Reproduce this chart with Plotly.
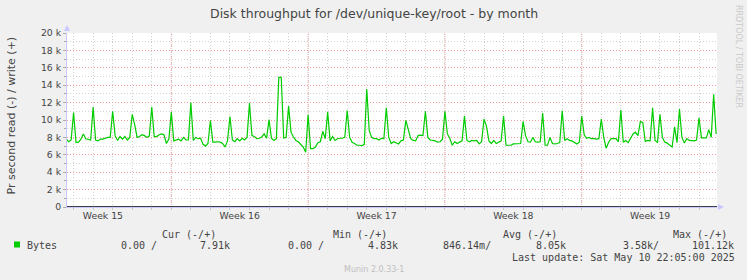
import pandas as pd
import plotly.graph_objects as go

# ---- data (bytes per second written, 3-hour samples) ----
start_time = "2025-04-07 15:00"
end_time = "2025-05-10 21:00"
write_bytes = [
    7800, 7500, 7700,                                   # Apr 7 (15h..21h)
    10850, 7400, 7450, 7800, 8400, 7850, 7800, 7700,    # Apr 8
    11500, 7700, 7600, 7800, 7800, 7900, 8000, 8000,    # Apr 9
    11000, 8200, 7650, 8100, 7800, 8100, 7700, 8000,    # Apr 10
    10650, 9500, 8000, 8100, 8300, 8200, 8000, 8150,    # Apr 11
    11500, 8100, 8100, 8300, 8400, 8300, 7300, 7800,    # Apr 12
    10900, 7600, 7700, 7800, 7600, 8000, 7700, 7700,    # Apr 13
    12000, 7650, 8000, 7850, 7900, 7200, 7000, 7300,    # Apr 14
    9950, 7450, 7450, 7500, 7450, 7300, 6900, 7600,     # Apr 15
    10400, 7700, 7500, 7850, 7600, 7900, 7700, 8000,    # Apr 16
    11950, 8200, 8100, 7850, 7900, 8050, 8400, 7900,    # Apr 17
    10050, 7900, 7650, 7850, 14900, 14900, 7900, 8000,  # Apr 18
    11600, 8600, 8050, 7650, 7500, 7250, 6900, 6300,    # Apr 19
    10600, 6700, 6700, 6900, 7400, 7500, 8700, 7850,    # Apr 20
    10900, 7600, 8100, 7650, 7850, 7900, 7900, 8000,    # Apr 21
    11100, 8000, 7450, 7300, 7100, 7100, 7050, 7200,    # Apr 22
    13550, 8800, 8000, 7850, 7850, 7700, 7900, 7850,    # Apr 23
    11400, 8000, 7300, 7500, 7400, 7250, 7600, 7700,    # Apr 24
    9950, 8800, 7850, 7650, 7600, 8200, 8250, 8200,     # Apr 25
    11000, 8000, 7700, 7650, 7600, 7450, 7500, 7800,    # Apr 26
    11000, 8400, 7900, 7100, 7500, 7300, 7500, 7600,    # Apr 27
    10450, 7650, 7500, 7650, 7600, 7650, 7250, 7500,    # Apr 28
    10100, 9300, 7600, 7300, 7650, 7300, 7450, 7600,    # Apr 29
    10450, 7100, 7100, 7100, 7250, 7250, 7250, 7300,    # Apr 30
    9850, 8200, 7500, 7450, 8000, 7500, 7450, 7500,     # May 1
    10800, 7100, 7100, 8000, 7300, 7250, 7300, 7400,    # May 2
    11100, 7650, 7850, 7650, 7600, 7400, 7250, 7450,    # May 3
    10450, 8300, 7900, 8000, 7850, 7850, 7800, 7850,    # May 4
    10100, 8000, 6750, 7450, 7850, 7850, 7850, 7500,    # May 5
    11150, 7450, 7650, 7400, 8000, 8400, 8600, 8200,    # May 6
    9850, 9700, 7550, 7650, 7600, 11400, 7650, 7400,    # May 7
    10650, 8000, 7450, 7350, 7100, 6900, 9200, 7400,    # May 8
    11250, 8000, 7350, 7850, 7650, 7650, 7600, 7700,    # May 9
    10250, 7950, 7950, 7950, 8900, 8000, 12950, 8400,   # May 10
]
times = pd.date_range(start_time, end_time, freq="3h")

week_centers = ["2025-04-09 12:00", "2025-04-16 12:00", "2025-04-23 12:00",
                "2025-04-30 12:00", "2025-05-07 12:00"]
week_labels = ["Week 15", "Week 16", "Week 17", "Week 18", "Week 19"]
week_starts = ["2025-04-13", "2025-04-20", "2025-04-27", "2025-05-04"]
y_ticks = [0, 2000, 4000, 6000, 8000, 10000, 12000, 14000, 16000, 18000, 20000]
y_tick_labels = ["0", "2 k", "4 k", "6 k", "8 k", "10 k", "12 k", "14 k",
                 "16 k", "18 k", "20 k"]

series_name = "Bytes"
col_headers = ["Cur (-/+)", "Min (-/+)", "Avg (-/+)", "Max (-/+)"]
col_values = ["0.00 /", "7.91k", "0.00 /", "4.83k", "846.14m/", "8.05k", "3.58k/", "101.12k"]
last_update = "Last update: Sat May 10 22:05:00 2025"

x_range = ["2025-04-07 15:55", "2025-05-10 22:05"]

# ---- layout geometry (pixels) ----
W, H = 747, 280
L, R, T, B = 67, 717, 33, 207


def px(X):
    return (X - L) / (R - L)


def py(Y):
    return (B - Y) / (B - T)


GREEN = "#00cc00"
TXT = "#444444"
MONO = "DejaVu Sans Mono"
SANS = "DejaVu Sans"
RED_GRID = "#ee9c9c"

fig = go.Figure()
fig.add_trace(go.Scatter(x=times, y=write_bytes, mode="lines",
                         line=dict(color=GREEN, width=1.2), name=series_name,
                         showlegend=False))

shapes = []
for ws in week_starts:
    # white underlay hides the day grid line, then the red major line on top
    shapes.append(dict(type="line", xref="x", yref="paper", x0=ws, x1=ws, y0=0, y1=1,
                       line=dict(color="#ffffff", width=2), layer="between"))
    shapes.append(dict(type="line", xref="x", yref="paper", x0=ws, x1=ws, y0=0, y1=1,
                       line=dict(color=RED_GRID, width=1, dash="1px,1px"), layer="between"))
# zero line
shapes.append(dict(type="line", xref="paper", yref="y", x0=0, x1=1, y0=0, y1=0,
                   line=dict(color="#000000", width=1.3)))
# arrows
shapes.append(dict(type="path", xref="paper", yref="paper",
                   path=f"M {px(64)},{py(31)} L {px(70)},{py(31)} L {px(67)},{py(25)} Z",
                   fillcolor="#c8c8ff", line=dict(width=0)))
shapes.append(dict(type="path", xref="paper", yref="paper",
                   path=f"M {px(718)},{py(204)} L {px(718)},{py(210)} L {px(724)},{py(207)} Z",
                   fillcolor="#c8c8ff", line=dict(width=0)))
# legend swatch
shapes.append(dict(type="rect", xref="paper", yref="paper",
                   x0=px(14), x1=px(20), y0=py(247.5), y1=py(241.5),
                   fillcolor=GREEN, line=dict(width=0)))

ann = []


def text(s, X, Y, size, color=TXT, family=MONO, xanchor="left", angle=0):
    ann.append(dict(text=s, x=px(X), y=py(Y), xref="paper", yref="paper",
                    xanchor=xanchor, yanchor="middle", showarrow=False,
                    textangle=angle, borderpad=0, borderwidth=0,
                    font=dict(family=family, size=size, color=color)))


text("Disk throughput for /dev/unique-key/root - by month", 373.5, 14, 12.5,
     color="#444444", family=SANS, xanchor="center")
text("Pr second read (-) / write (+)", 10.5, 116, 11, color="#444444", family=SANS,
     xanchor="center", angle=-90)
text("RRDTOOL / TOBI OETIKER", 739, 56, 8, color="#cacaca", family=SANS,
     xanchor="center", angle=90)

text(series_name, 26.7, 245.5, 10)
for h, X in zip(col_headers, [161.7, 332.7, 503.3, 673.3]):
    text(h, X, 234, 10)
for v, X in zip(col_values, [120.7, 200, 288.3, 368.3, 443.3, 535.7, 623.3, 691.7]):
    text(v, X, 245.5, 10)
text(last_update, 511.7, 257.5, 10)
text("Munin 2.0.33-1", 373.5, 269.5, 8, color="#c0c0c0", family=SANS, xanchor="center")

fig.update_layout(
    width=W, height=H,
    margin=dict(l=L, r=W - R, t=T, b=H - B, pad=0),
    paper_bgcolor="#f0f0f0", plot_bgcolor="#ffffff",
    showlegend=False,
    shapes=shapes, annotations=ann,
    xaxis=dict(
        type="date", range=x_range, tickmode="array", tickvals=week_centers,
        ticktext=week_labels, ticks="", showgrid=False, zeroline=False,
        showline=True, linecolor="#c8c8ff", linewidth=1,
        tickfont=dict(family=SANS, size=9.3, color=TXT),
        minor=dict(tickmode="linear", tick0="2025-04-08", dtick=86400000,
                   showgrid=True, gridcolor="#d2d2d2", griddash="1px,2px",
                   gridwidth=1, ticks="outside", ticklen=2, tickcolor="#c8c8c8"),
    ),
    yaxis=dict(
        range=[0, 20000], tickmode="array", tickvals=y_ticks, ticktext=y_tick_labels,
        showgrid=True, gridcolor=RED_GRID, griddash="1px,2px", gridwidth=1,
        zeroline=False, showline=True, linecolor="#c8c8ff", linewidth=1,
        ticks="outside", ticklen=3, tickcolor="#aaaaaa",
        tickfont=dict(family=SANS, size=9.3, color=TXT),
        minor=dict(tickmode="linear", tick0=0, dtick=1000, showgrid=True,
                   gridcolor="#d2d2d2", griddash="1px,2px", gridwidth=1,
                   ticks="outside", ticklen=2, tickcolor="#aaaaaa"),
    ),
)

fig.write_html("out.html")
